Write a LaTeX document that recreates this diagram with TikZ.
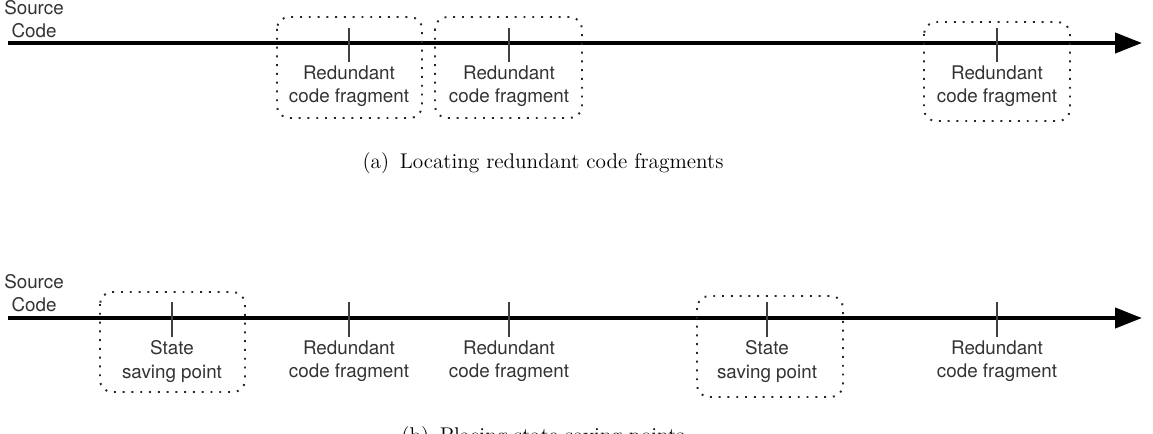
\documentclass[tikz,border=0pt]{standalone}
\usepackage{fontspec}
\setsansfont{TeX Gyre Heros}
\usetikzlibrary{arrows.meta}
\usetikzlibrary{positioning}
\definecolor{labelgray}{rgb}{0.2,0.2,0.2}
\definecolor{tickgray}{rgb}{0.25,0.25,0.25}

\begin{document}
\begin{tikzpicture}[x=0.02cm,y=-0.02cm,
  timeline/.style={line width=2.3pt, -{Triangle[length=0.54cm,width=0.4cm]}},
  tickline/.style={line width=0.8pt, draw=tickgray},
  srclabel/.style={font=\sffamily\fontsize{10.7}{13}\selectfont, text=labelgray, align=center, inner sep=0pt, anchor=base},
  fraglabel/.style={font=\sffamily\fontsize{10.7}{13.6}\selectfont, text=labelgray, align=center, inner sep=0pt, anchor=north},
  region/.style={draw=black!85, dash pattern=on 1.1pt off 3.9pt, line width=1.1pt, rounded corners=0.24cm},
  caption/.style={font=\fontsize{12.1}{15}\selectfont, anchor=base}]

  \useasboundingbox (0,0) rectangle (1153,433);

  % (a) locating
  \coordinate (startA) at (8,43);
  \coordinate (endA) at (1142,43);
  \draw[timeline] (startA) -- (endA);
  \node[srclabel] (srcA) at (34,37) {Source\\Code};

  \foreach \x/\name in {349/a1, 509/a2, 997/a3} {
    \coordinate (top\name) at (\x,28);
    \coordinate (bot\name) at (\x,62);
    \draw[tickline] (top\name) -- (bot\name);
    \node[fraglabel] (lab\name) at (\x,65) {Redundant\\code fragment};
  }

    % dotted regions
    \draw[region] (277,17) rectangle (422,118);
    \draw[region] (435,17) rectangle (582,118);
    \draw[region] (924,22) rectangle (1070,121);

  \node[caption] (capA) at (543,168) {(a)\enspace Locating redundant code fragments};

  % (b) placing
  \coordinate (startB) at (8,318);
  \coordinate (endB) at (1142,318);
  \draw[timeline] (startB) -- (endB);
  \node[srclabel] (srcB) at (34,311) {Source\\Code};

  \foreach \x/\name in {349/b2, 509/b3, 997/b5} {
    \coordinate (top\name) at (\x,302);
    \coordinate (bot\name) at (\x,337);
    \draw[tickline] (top\name) -- (bot\name);
    \node[fraglabel] (lab\name) at (\x,340) {Redundant\\code fragment};
  }
  \foreach \x/\name in {172/b1, 767/b4} {
    \coordinate (top\name) at (\x,302);
    \coordinate (bot\name) at (\x,337);
    \draw[tickline] (top\name) -- (bot\name);
    \node[fraglabel] (lab\name) at (\x,340) {State\\saving point};
  }

    % dotted regions
    \draw[region] (100,292) rectangle (245,392);
    \draw[region] (697,296) rectangle (843,397);

  \node[caption] (capB) at (543,442) {(b)\enspace Placing state saving points};

\end{tikzpicture}
\end{document}
